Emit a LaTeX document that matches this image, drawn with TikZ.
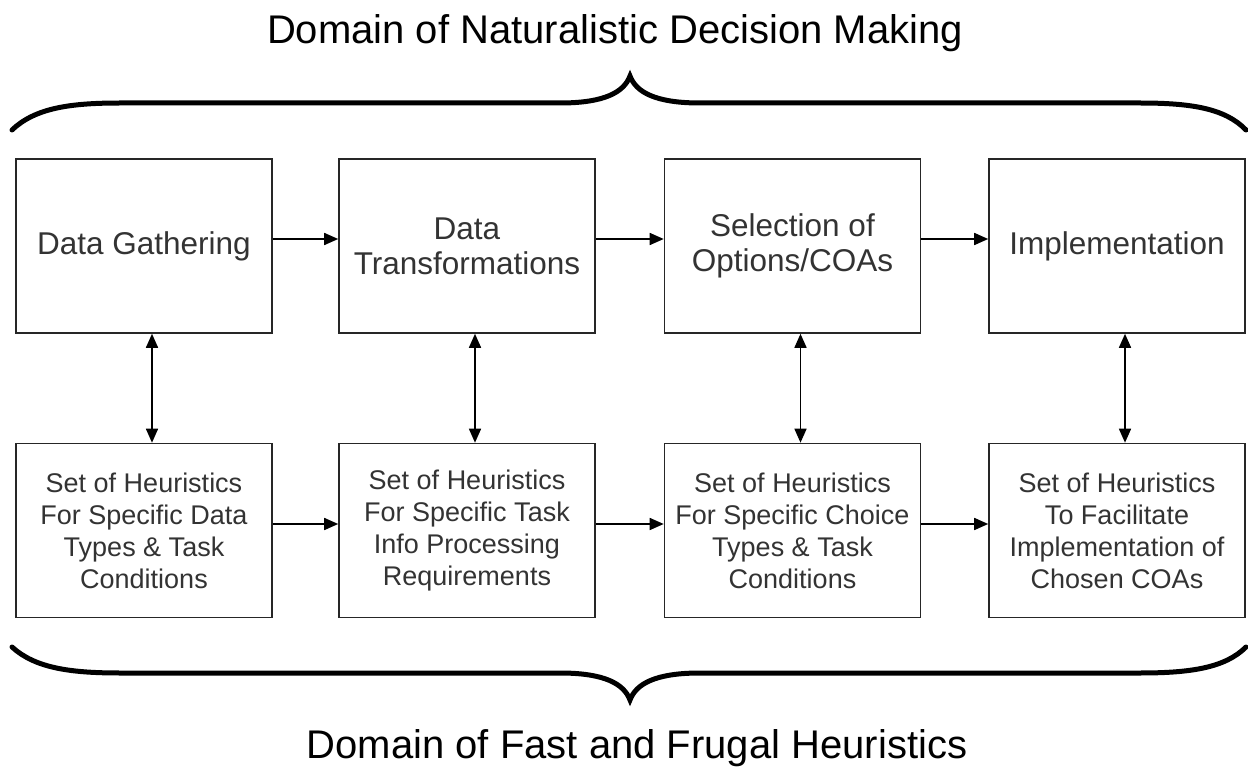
\documentclass[tikz,border=0pt]{standalone}
\usepackage{fontspec}
\setmainfont{Liberation Sans}
\usetikzlibrary{arrows.meta}
\begin{document}
\begin{tikzpicture}[x=1pt,y=-1pt,
  box/.style={draw=black!85, line width=1.6pt, minimum width=256pt, minimum height=174pt,
    align=center, inner sep=0pt, font=\fontsize{27}{32}\selectfont, text=black!80},
  topbox/.style={box, font=\fontsize{31.5}{35}\selectfont},
  conn/.style={line width=1.6pt, -{Triangle[length=14pt,width=12pt]}},
  biconn/.style={line width=1.6pt, {Triangle[length=14pt,width=12pt]}-{Triangle[length=14pt,width=12pt]}},
  brace/.style={line width=5pt, line cap=round, line join=miter},
  title/.style={font=\fontsize{40}{48}\selectfont, inner sep=0pt, anchor=base}]
\useasboundingbox (0,0) rectangle (1248,767);
\fill[white] (0,0) rectangle (1248,767);

\node[title] (ttop) at (615,44) {Domain of Naturalistic Decision Making};
\node[title] (tbot) at (637,758) {Domain of Fast and Frugal Heuristics};

\draw[brace] (12,130) .. controls (35,108) and (70,103) .. (120,103) -- (560,103)
  .. controls (605,103) and (624,92) .. (630,76)
  .. controls (636,92) and (655,103) .. (700,103) -- (1140,103)
  .. controls (1190,103) and (1225,108) .. (1246,130);
\draw[brace] (12,647) .. controls (35,668) and (70,673) .. (120,673) -- (560,673)
  .. controls (605,673) and (624,684) .. (630,700)
  .. controls (636,684) and (655,673) .. (700,673) -- (1140,673)
  .. controls (1190,673) and (1225,668) .. (1246,647);

\node[topbox] (t1) at (144,246) {Data Gathering};
\node[topbox] (t2) at (467,246) {Data\\Transformations};
\node[topbox] (t3) at (792.5,246) {Selection of\\Options/COAs};
\node[topbox] (t4) at (1117,246) {Implementation};

\node[box] (b1) at (144,530.5) {Set of Heuristics\\For Specific Data\\Types \& Task\\Conditions};
\node[box] (b2) at (467,530.5) {Set of Heuristics\\For Specific Task\\Info Processing\\Requirements};
\node[box] (b3) at (792.5,530.5) {Set of Heuristics\\For Specific Choice\\Types \& Task\\Conditions};
\node[box] (b4) at (1117,530.5) {Set of Heuristics\\To Facilitate\\Implementation of\\Chosen COAs};

\foreach \a/\b in {t1/t2,t2/t3,t3/t4}
  \draw[conn] ([yshift=7pt]\a.east) -- ([yshift=7pt]\b.west);
\foreach \a/\b in {b1/b2,b2/b3,b3/b4}
  \draw[conn] ([yshift=6.5pt]\a.east) -- ([yshift=6.5pt]\b.west);
\foreach \n in {1,2,3,4}
  \draw[biconn] ([xshift=8pt]t\n.south) -- ([xshift=8pt]b\n.north);
\end{tikzpicture}
\end{document}
